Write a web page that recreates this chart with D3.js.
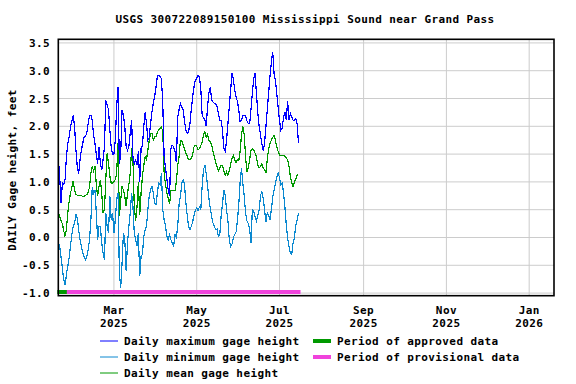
<!DOCTYPE html>
<html><head><meta charset="utf-8">
<script src="https://cdn.jsdelivr.net/npm/d3@7"></script>
<style>
html,body{margin:0;padding:0;background:#fff;}
text{font-family:"DejaVu Sans Mono",monospace;font-weight:bold;fill:#000;}
</style></head><body>
<svg id="chart" width="576" height="384"></svg>
<script>
const title = "USGS 300722089150100 Mississippi Sound near Grand Pass";
const yLabel = "DAILY Gage height, feet";
const startDate = "2025-01-19";
const dailyMax = [
1.45,1.1,0.62,0.98,0.95,1.05,1.45,1.69,1.81,1.99,
2.1,2.2,2.0,1.57,1.27,1.15,1.4,1.57,1.69,1.81,
1.82,1.88,2.05,2.2,2.2,2.1,1.85,1.7,1.5,1.33,
1.63,1.33,1.21,1.4,1.63,2.47,2.38,2.3,1.93,1.61,
1.5,1.5,1.75,2.35,2.71,1.33,1.51,2.29,2.2,1.99,
1.63,1.57,1.63,1.87,2.11,1.45,1.33,1.39,1.3,1.55,
1.0,1.6,1.65,2.0,2.25,2.05,1.75,1.8,2.05,2.26,
2.41,2.53,2.71,2.9,2.92,2.89,2.86,2.4,1.45,1.25,
1.05,0.85,0.74,1.6,1.66,1.63,1.55,1.35,2.17,2.3,
2.41,2.35,2.3,2.1,1.93,1.87,1.9,2.05,2.3,2.53,
2.71,2.83,2.86,2.92,2.89,2.68,2.2,2.15,2.11,2.0,
2.35,2.6,2.71,2.47,2.44,2.41,2.41,2.35,2.23,2.11,
2.11,1.93,1.6,1.55,1.75,2.05,2.35,2.65,2.95,2.85,
2.65,2.53,2.45,2.3,2.08,2.11,2.2,2.2,2.2,2.1,
2.05,2.05,2.3,2.6,2.85,2.95,2.6,2.25,2.0,1.85,
1.68,1.56,1.7,2.0,2.3,2.6,2.9,3.15,3.34,2.95,
2.83,2.59,2.35,2.11,1.93,1.96,2.17,2.26,2.11,2.45,
2.11,2.23,2.18,2.11,2.1,2.14,2.05,1.7];
const dailyMin = [
-0.1,-0.15,-0.35,-0.55,-0.76,-0.86,-0.66,-0.52,-0.36,-0.15,
0.06,0.2,0.26,0.42,0.35,0.14,-0.04,-0.16,-0.28,-0.34,
-0.4,-0.34,-0.22,-0.04,0.3,0.9,0.8,0.85,0.45,-0.04,
0.2,0.2,-0.1,-0.28,-0.4,0.44,0.2,0.08,0.74,0.32,
0.44,0.08,0.32,0.68,0.8,-0.64,-0.9,-0.46,0.08,-0.04,
-0.6,-0.1,0.2,0.44,0.8,0.56,0.08,-0.04,-0.16,0.08,
-0.7,-0.34,-0.3,0.02,0.14,0.2,0.5,0.74,0.86,0.92,
0.8,0.62,0.6,0.8,0.98,0.95,1.16,0.5,0.32,0.2,
0.02,-0.04,0.05,-0.04,-0.1,-0.16,0.05,0.0,0.2,0.6,
0.74,0.98,1.04,0.95,0.62,0.4,0.2,0.14,0.2,0.28,
0.4,0.5,0.53,0.48,0.55,0.5,0.92,1.22,1.3,1.15,
0.92,0.7,0.52,0.38,0.26,0.2,0.14,0.15,0.02,0.05,
0.4,0.6,0.86,0.75,0.5,0.3,-0.04,-0.16,-0.12,0.0,
0.05,0.1,0.3,0.6,1.0,1.25,0.98,0.74,0.44,0.3,
0.25,0.14,-0.1,0.5,0.48,0.38,0.3,0.4,0.5,0.75,
0.83,0.7,0.5,0.28,0.45,0.4,0.32,0.5,0.72,0.85,
0.98,1.08,1.16,1.08,0.95,0.98,0.8,0.55,0.22,-0.02,
-0.16,-0.28,-0.31,-0.1,0.0,0.22,0.32,0.44];
const dailyMean = [
0.44,0.38,0.3,0.25,0.12,0.02,0.15,0.45,0.65,0.8,
0.9,1.02,0.85,0.78,0.76,0.76,0.76,0.75,0.74,0.74,
0.76,0.77,0.82,0.9,1.15,1.28,1.2,1.28,0.95,0.74,
0.92,1.04,0.8,0.44,0.5,1.04,1.51,1.33,1.1,0.98,
0.98,1.0,1.04,1.15,1.7,0.38,0.68,0.92,0.85,0.74,
0.56,0.8,0.95,1.15,1.6,1.4,0.55,0.3,0.55,1.0,
0.4,0.8,1.1,1.3,1.45,1.4,1.57,1.75,1.87,1.87,
1.75,1.81,1.81,1.9,1.93,1.96,1.99,1.9,1.15,0.95,
0.8,0.7,0.6,0.85,0.85,0.85,0.85,1.0,1.3,1.45,
1.75,1.74,1.66,1.6,1.52,1.46,1.4,1.4,1.42,1.5,
1.63,1.66,1.64,1.58,1.6,1.65,1.72,1.85,1.9,1.8,
1.85,1.75,1.72,1.66,1.55,1.45,1.35,1.28,1.2,1.25,
1.3,1.3,1.2,1.12,1.18,1.12,1.2,1.32,1.42,1.48,
1.4,1.35,1.4,1.38,1.55,1.85,2.0,1.85,1.45,1.18,
1.25,1.4,1.57,1.6,1.57,1.52,1.45,1.3,1.25,1.28,
1.32,1.25,1.22,1.16,1.4,1.6,1.69,1.75,1.8,1.84,
1.75,1.63,1.55,1.48,1.48,1.48,1.48,1.46,1.43,1.4,
1.28,1.1,0.98,0.92,1.0,1.05,1.13,1.13];
const yTicks = [3.5,3.0,2.5,2.0,1.5,1.0,0.5,0.0,-0.5,-1.0];
const xTickDates = ["2025-03-01","2025-05-01","2025-07-01","2025-09-01","2025-11-01","2026-01-01"];
const xTickMonths = ["Mar","May","Jul","Sep","Nov","Jan"];
const xTickYears = ["2025","2025","2025","2025","2025","2026"];
const xDomain = ["2025-01-19T00:00:00Z","2026-01-19T07:00:00Z"];
const periodNames = ["Period of approved data","Period of provisional data"];
const periodRanges = [["2025-01-19T00:00:00Z","2025-01-26T00:00:00Z"],["2025-01-26T00:00:00Z","2025-07-16T12:00:00Z"]];
const seriesNames = ["Daily maximum gage height","Daily minimum gage height","Daily mean gage height"];

const colors = {max:"#0000ff", min:"#0a88d0", mean:"#009900", approved:"#009900", provisional:"#f043dc"};

const svg = d3.select("#chart");
svg.append("rect").attr("width",576).attr("height",384).attr("fill","#fff");
const L=58.3, R=554, T=39.3, B=295.7;
const x = d3.scaleUtc().domain(xDomain.map(s=>new Date(s))).range([L,R]);
const y = d3.scaleLinear().domain([-1.047,3.565]).range([B,T]);
const fs = "11px";

// grid
const g = svg.append("g");
g.selectAll("line.hg").data(yTicks).enter().append("line")
 .attr("x1",L).attr("x2",R).attr("y1",d=>y(d)).attr("y2",d=>y(d))
 .attr("stroke","#cccccc").attr("stroke-width",1);
g.selectAll("line.vg").data(xTickDates).enter().append("line")
 .attr("x1",d=>x(new Date(d+"T00:00:00Z"))).attr("x2",d=>x(new Date(d+"T00:00:00Z")))
 .attr("y1",T).attr("y2",B).attr("stroke","#cccccc").attr("stroke-width",1);

// data
const t0 = new Date(startDate+"T00:00:00Z");
const dayMs = 86400000;
const mk = arr => arr.map((v,i)=>({d:new Date(t0.getTime()+i*dayMs), v}));
const line = d3.line().x(p=>x(p.d)).y(p=>y(p.v));
[[dailyMean,colors.mean],[dailyMin,colors.min],[dailyMax,colors.max]].forEach(([arr,c])=>{
  svg.append("path").datum(mk(arr)).attr("d",line).attr("fill","none")
   .attr("stroke",c).attr("stroke-width",1.2).attr("shape-rendering","crispEdges");
});

// periods
const pc=[colors.approved,colors.provisional];
periodRanges.forEach((r,i)=>{
  svg.append("line").attr("x1",x(new Date(r[0]))-1).attr("x2",x(new Date(r[1])))
   .attr("y1",y(-0.98)).attr("y2",y(-0.98)).attr("stroke",pc[i]).attr("stroke-width",4);
});

// frame
svg.append("rect").attr("x",L).attr("y",T).attr("width",R-L).attr("height",B-T)
 .attr("fill","none").attr("stroke","#000").attr("stroke-width",1.6);

// y labels
svg.selectAll("text.yt").data(yTicks).enter().append("text")
 .attr("x",50).attr("y",d=>y(d)+4).attr("text-anchor","end")
 .style("font-size",fs).style("letter-spacing","0.4px").text(d=>d.toFixed(1));
// x labels
xTickDates.forEach((d,i)=>{
  const xx = x(new Date(d+"T00:00:00Z"));
  svg.append("text").attr("x",xx).attr("y",314).attr("text-anchor","middle")
   .style("font-size",fs).style("letter-spacing","0.4px").text(xTickMonths[i]);
  svg.append("text").attr("x",xx).attr("y",327).attr("text-anchor","middle")
   .style("font-size",fs).style("letter-spacing","0.4px").text(xTickYears[i]);
});
// title
svg.append("text").attr("x",305).attr("y",23).attr("text-anchor","middle")
 .style("font-size",fs).style("letter-spacing","0.4px").text(title);
// y axis title
svg.append("text").attr("transform","translate(16,170) rotate(-90)").attr("text-anchor","middle")
 .style("font-size",fs).style("letter-spacing","0.4px").text(yLabel);

// legend
const sc=[colors.max,colors.min,colors.mean];
seriesNames.forEach((n,i)=>{
  const yy = 341+16*i;
  svg.append("line").attr("x1",100).attr("x2",118).attr("y1",yy).attr("y2",yy).attr("stroke",sc[i]).attr("stroke-width",1);
  svg.append("text").attr("x",124).attr("y",yy+4).style("font-size",fs).style("letter-spacing","0.4px").text(n);
});
periodNames.forEach((n,i)=>{
  const yy = 341+16*i;
  svg.append("line").attr("x1",313).attr("x2",331).attr("y1",yy).attr("y2",yy).attr("stroke",pc[i]).attr("stroke-width",4);
  svg.append("text").attr("x",337).attr("y",yy+4).style("font-size",fs).style("letter-spacing","0.4px").text(n);
});
</script></body></html>
